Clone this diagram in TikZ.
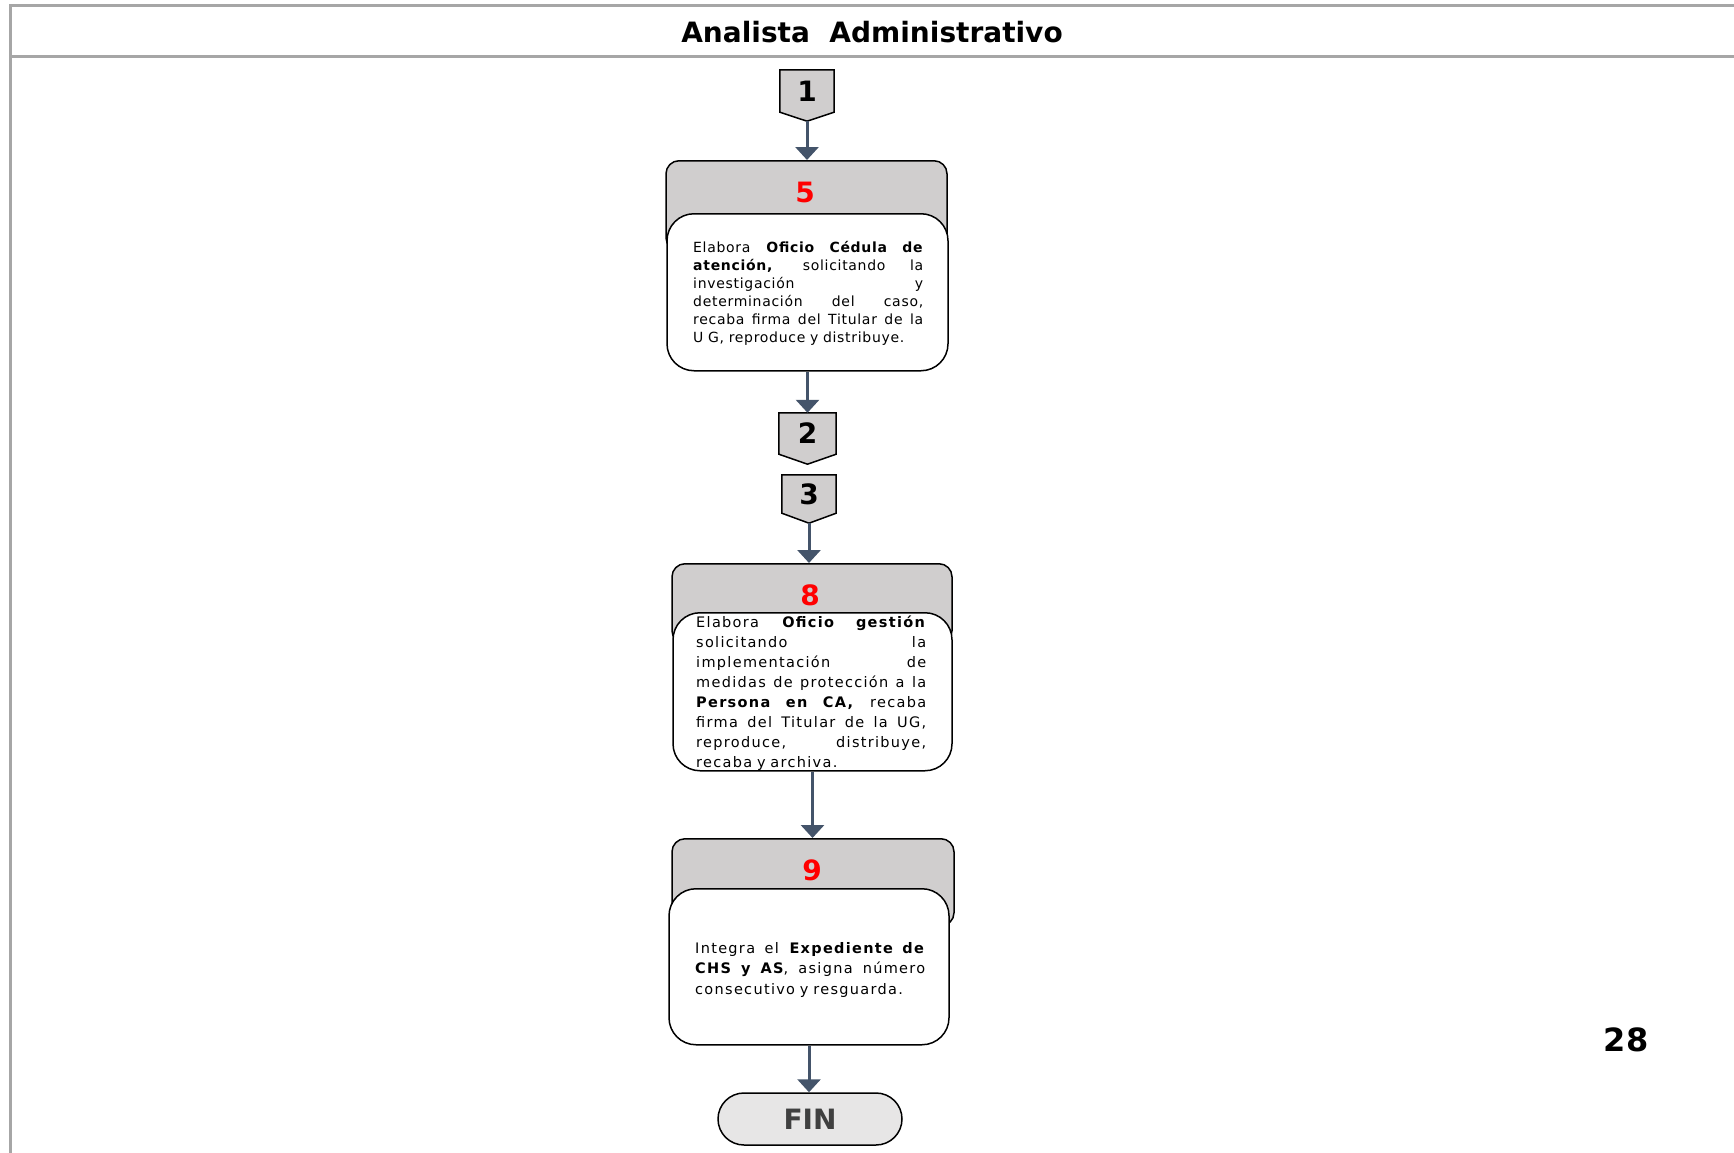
\documentclass[tikz,border=0pt]{standalone}
\usepackage{fontspec}
\setmainfont{DejaVu Sans}
\newfontfamily\stepfontA[LetterSpace=5]{DejaVu Sans}
\newfontfamily\stepfontB[LetterSpace=9]{DejaVu Sans}
\usetikzlibrary{arrows.meta,calc,backgrounds}

\definecolor{rulegray}{HTML}{A6A6A6}
\definecolor{boxgray}{HTML}{D0CECE}
\definecolor{fingray}{HTML}{E7E6E6}
\definecolor{fintext}{HTML}{404040}
\definecolor{arrowc}{HTML}{44546A}
\definecolor{numred}{HTML}{FF0000}

% one justified line of a step description: word spaces stretch to fill the width
\newcommand{\jline}[1]{\makebox[230pt][s]{\spaceskip=0.3em plus 1fil\relax#1}}

\begin{document}
\begin{tikzpicture}[x=1pt,y=-1pt,
  frame/.style={draw=rulegray, line width=3pt},
  titletext/.style={font=\bfseries\fontsize{28}{32}\selectfont, inner sep=0},
  conn/.style={inner sep=0, font=\bfseries\fontsize{28}{32}\selectfont},
  connshape/.style={draw=black, line width=1.5pt, fill=boxgray, line join=miter},
  backbox/.style={rectangle, rounded corners=13, draw=black, line width=1.5pt, fill=boxgray, inner sep=0},
  frontbox/.style={rectangle, rounded corners=27, draw=black, line width=1.5pt, fill=white, inner sep=0},
  stepnum/.style={inner sep=0, text=numred, font=\bfseries\fontsize{28}{32}\selectfont},
  steptext/.style={inner sep=0, text width=230pt, align=left},
  finbox/.style={rectangle, rounded corners=26, draw=black, line width=1.5pt, fill=fingray,
    minimum width=184, minimum height=52, inner sep=0, text=fintext, font=\bfseries\fontsize{28}{32}\selectfont},
  pagenum/.style={inner sep=0, font=\bfseries\fontsize{32}{36}\selectfont},
  flow/.style={draw=arrowc, line width=3pt, -{Triangle[width=23pt,length=13pt]}}
]
\useasboundingbox (0,0) rectangle (1734,1153);

% page frame and header band
\draw[frame] (10,6) -- (1734,6);
\draw[frame] (10,57) -- (1734,57);
\draw[frame] (10,4.5) -- (10,1153);
\node[titletext] (title) at (872,32) {Analista~ Administrativo};

% off-page connectors
\node[conn, minimum width=54, minimum height=42] (c1) at (807,91) {1};
\coordinate (c1tip) at ($(c1.south)+(0,9)$);
\node[conn, minimum width=57, minimum height=41] (c2) at (807.5,433.5) {2};
\coordinate (c2tip) at ($(c2.south)+(0,10)$);
\node[conn, minimum width=54, minimum height=38] (c3) at (809,494) {3};
\coordinate (c3tip) at ($(c3.south)+(0,10)$);
\begin{scope}[on background layer]
  \draw[connshape] (c1.north west) -- (c1.north east) -- (c1.south east) -- (c1tip) -- (c1.south west) -- cycle;
  \draw[connshape] (c2.north west) -- (c2.north east) -- (c2.south east) -- (c2tip) -- (c2.south west) -- cycle;
  \draw[connshape] (c3.north west) -- (c3.north east) -- (c3.south east) -- (c3tip) -- (c3.south west) -- cycle;
\end{scope}

% step 5
\node[backbox, minimum width=281, minimum height=90, anchor=north] (b5) at (806.5,160) {};
\node[stepnum] (n5) at (805,192) {5};
\node[frontbox, minimum width=281, minimum height=157, anchor=north] (f5) at (807.5,213) {};
\node[steptext, anchor=base west, font=\stepfontA\fontsize{14}{18}\selectfont] (t5) at (693,252) {%
\jline{Elabora \textbf{Oficio Cédula de}}\\
\jline{\textbf{atención,} solicitando la}\\
\jline{investigación y}\\
\jline{determinación del caso,}\\
\jline{recaba firma del Titular de la}\\
U G, reproduce y distribuye.};

% step 8
\node[backbox, minimum width=280, minimum height=80, anchor=north] (b8) at (812,563) {};
\node[stepnum] (n8) at (810,595) {8};
\node[frontbox, minimum width=279, minimum height=158, anchor=north] (f8) at (812.5,612) {};
\node[steptext, anchor=base west, font=\stepfontB\fontsize{14.5}{20}\selectfont] (t8) at (696,627) {%
\jline{Elabora \textbf{Oficio gestión}}\\
\jline{solicitando la}\\
\jline{implementación de}\\
\jline{medidas de protección a la}\\
\jline{\textbf{Persona en CA,} recaba}\\
\jline{firma del Titular de la UG,}\\
\jline{reproduce, distribuye,}\\
recaba y archiva.};

% step 9
\node[backbox, minimum width=282, minimum height=87, anchor=north] (b9) at (813,838) {};
\node[stepnum] (n9) at (812,870) {9};
\node[frontbox, minimum width=280, minimum height=156, anchor=north] (f9) at (809,888) {};
\node[steptext, anchor=base west, font=\stepfontB\fontsize{14.5}{20.5}\selectfont] (t9) at (695,953) {%
\jline{Integra el \textbf{Expediente de}}\\
\jline{\textbf{CHS y AS}, asigna número}\\
consecutivo y resguarda.};

% terminator and page number
\node[finbox] (fin) at (810,1119) {FIN};
\node[pagenum] (pg) at (1626,1040) {28};

% flow arrows
\draw[flow] (c1tip) -- (c1tip |- b5.north);
\draw[flow] (f5.south) -- (c2.north);
\draw[flow] (c3tip) -- (c3tip |- b8.north);
\draw[flow] (f8.south) -- (f8.south |- b9.north);
\draw[flow] (f9.south) -- (f9.south |- fin.north);
\end{tikzpicture}
\end{document}
